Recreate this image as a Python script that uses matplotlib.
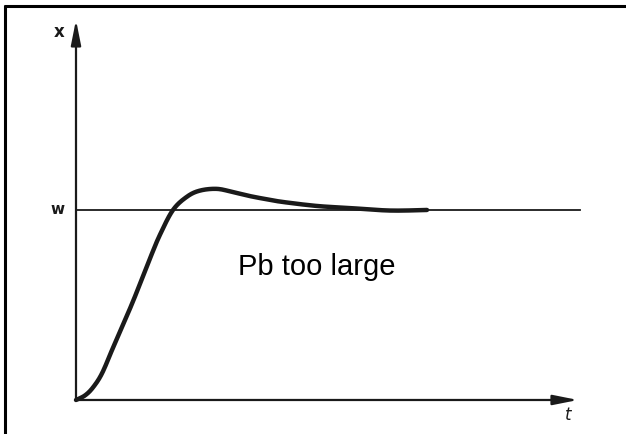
import matplotlib
matplotlib.use("Agg")
import matplotlib.pyplot as plt
import numpy as np
from matplotlib.lines import Line2D

# Step response (time t, controlled variable x relative to setpoint w = 1)
t_vals = [0.0, 0.09, 0.17, 0.26, 0.37, 0.49, 0.59, 0.74, 0.84, 0.97, 1.11,
          1.24, 1.41, 1.57, 1.74, 1.91, 2.07, 2.41, 2.74, 3.14, 3.51]
x_vals = [0.0, 0.024, 0.066, 0.140, 0.275, 0.420, 0.545, 0.745, 0.870, 1.0,
          1.070, 1.102, 1.111, 1.094, 1.073, 1.056, 1.042, 1.021, 1.010, 0.997, 1.0]
setpoint_w = 1.0
t_axis_end = 5.02
x_axis_end = 2.0
w_line_end = 5.04
label_text = "Pb too large"


def smooth_path(xs, ys, n=20):
    """Catmull-Rom rendering of a polyline through the given points."""
    p = np.column_stack([xs, ys]).astype(float)
    p = np.vstack([p[0], p, p[-1]])
    out = []
    s = np.linspace(0, 1, n, endpoint=False)[:, None]
    for i in range(1, len(p) - 2):
        p0, p1, p2, p3 = p[i - 1], p[i], p[i + 1], p[i + 2]
        seg = 0.5 * ((2 * p1) + (-p0 + p2) * s
                     + (2 * p0 - 5 * p1 + 4 * p2 - p3) * s ** 2
                     + (-p0 + 3 * p1 - 3 * p2 + p3) * s ** 3)
        out.append(seg)
    out.append(p[-2][None, :])
    out = np.vstack(out)
    return out[:, 0], out[:, 1]


fig = plt.figure(figsize=(6.26, 4.34), dpi=100)
ax = fig.add_axes([0, 0, 1, 1])
ax.set_xlim(-0.76, 5.5)
ax.set_ylim(-0.179, 2.105)
ax.axis("off")

# frame lines (top and left only, as in the reference)
fig.add_artist(Line2D([4 / 626, 1], [1 - 6 / 434, 1 - 6 / 434], color="black", lw=2.2,
                      transform=fig.transFigure, solid_capstyle="butt"))
fig.add_artist(Line2D([5 / 626, 5 / 626], [0, 1 - 5 / 434], color="black", lw=2.2,
                      transform=fig.transFigure, solid_capstyle="butt"))

# axes with arrows
arrow_style = "-|>,head_length=1.5,head_width=0.3"
ax.annotate("", xy=(0, x_axis_end), xytext=(0, 0),
            arrowprops=dict(arrowstyle=arrow_style, color="#1a1a1a", lw=1.6,
                            mutation_scale=10, shrinkA=0, shrinkB=0))
ax.annotate("", xy=(t_axis_end, 0), xytext=(0, 0),
            arrowprops=dict(arrowstyle=arrow_style, color="#1a1a1a", lw=1.6,
                            mutation_scale=10, shrinkA=0, shrinkB=0))

# setpoint line
ax.plot([0, w_line_end], [setpoint_w, setpoint_w], color="#1a1a1a", lw=1.3)

# response curve
st, sx = smooth_path(t_vals, x_vals)
ax.plot(st, sx, color="#1a1a1a", lw=3.2, solid_capstyle="round",
        solid_joinstyle="round")

# labels
ax.text(-0.17, 1.935, "x", ha="center", va="center", fontsize=12,
        fontweight="bold", family="DejaVu Sans", color="#1a1a1a")
ax.text(-0.18, setpoint_w, "w", ha="center", va="center", fontsize=11,
        fontweight="bold", family="DejaVu Sans", color="#1a1a1a")
ax.text(4.92, -0.079, "t", ha="center", va="center", fontsize=12,
        family="DejaVu Sans", style="italic", color="#1a1a1a")
ax.text(2.41, 0.70, label_text, ha="center", va="center", fontsize=21,
        family="Liberation Sans", color="black")

fig.savefig("out.png", dpi=100)
